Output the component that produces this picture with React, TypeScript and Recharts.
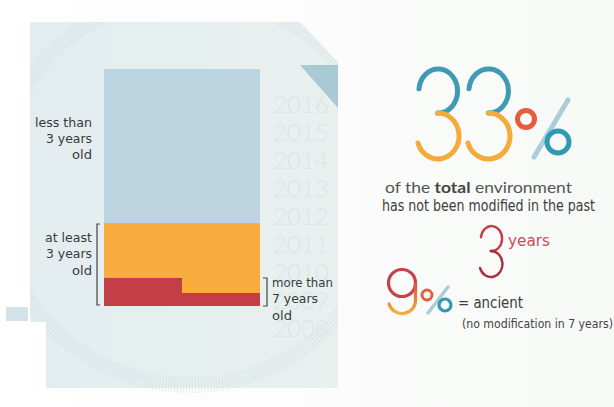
import { BarChart, Bar, XAxis, YAxis } from 'recharts'

// two halves of the single column (left / right step)
const halves = ['a', 'b']
const moreThan7 = [12, 5.5]
const atLeast3 = [23, 29.5]
const lessThan3 = [65, 65]
const years = ['2016', '2015', '2014', '2013', '2012', '2011', '2010', '2009', '2008']

const data = halves.map((h, i) => ({
  name: h,
  red: moreThan7[i],
  orange: atLeast3[i],
  blue: lessThan3[i],
}))

const labelFont = '"DejaVu Sans Condensed", "Liberation Sans Narrow", sans-serif'
const textFont = '"Lato", "Open Sans", sans-serif'

function Background() {
  return (
    <svg width={614} height={407} style={{ position: 'absolute', left: 0, top: 0 }}>
      <defs>
        <linearGradient id="bg" x1="0" y1="0" x2="1" y2="0">
          <stop offset="0%" stopColor="#e3edf0" />
          <stop offset="100%" stopColor="#e9f1ef" />
        </linearGradient>
        <linearGradient id="page" x1="0" y1="0" x2="1" y2="0">
          <stop offset="0%" stopColor="#ffffff" />
          <stop offset="100%" stopColor="#f7f9f7" />
        </linearGradient>
        <clipPath id="panelClip">
          <polygon points="30,22 300,22 338,62 338,395 30,395" />
        </clipPath>
      </defs>
      <rect x={0} y={0} width={614} height={407} fill="url(#page)" />
      <polygon points="30,22 300,22 338,62 338,388 30,388" fill="url(#bg)" />
      <g clipPath="url(#panelClip)">
        <circle cx={190} cy={190} r={195} fill="none" stroke="#c6d6dc" strokeWidth={16} strokeDasharray="1 2" opacity={0.45} />
      </g>
      <polygon points="300,65 338,65 338,108" fill="#a9c9d5" />
      <rect x={6} y={307} width={22} height={14} fill="#d3e1e8" />
      <rect x={0} y={322} width={46} height={70} fill="#ffffff" />
      {years.map((y, i) => (
        <text
          key={y}
          x={273}
          y={113 + i * 28}
          fontSize={24}
          fontFamily={textFont}
          fontWeight={300}
          fill="#dde4e6"
        >
          {y}
        </text>
      ))}
    </svg>
  )
}

// a thin "3" drawn as two bowls, x0 = left edge
function Three({ x0, top, w, h, sw, upper, lower }: { x0: number; top: number; w: number; h: number; sw: number; upper: string; lower: string }) {
  const mid = top + h * 0.49
  const cx = x0 + w * 0.47
  const r1x = w * 0.46
  const r1y = (mid - top) / 2
  const r2x = w * 0.5
  const r2y = (top + h - mid) / 2
  return (
    <g fill="none" strokeWidth={sw} strokeLinecap="round">
      <path d={`M${x0 + 1},${top + r1y * 0.9} A${r1x},${r1y} 0 1 1 ${cx},${mid}`} stroke={upper} />
      <path d={`M${cx},${mid} A${r2x},${r2y} 0 1 1 ${x0},${mid + r2y * 1.3}`} stroke={lower} />
    </g>
  )
}

function Labels() {
  const line = (t: string, x: number, y: number, anchor: 'start' | 'end', len: number) => (
    <text
      x={x}
      y={y}
      textAnchor={anchor}
      fontSize={12.5}
      fontFamily={labelFont}
      fill="#3a3a3a"
      textLength={len}
      lengthAdjust="spacingAndGlyphs"
    >
      {t}
    </text>
  )
  return (
    <svg width={614} height={407} style={{ position: 'absolute', left: 0, top: 0 }}>
      <defs>
        <linearGradient id="nineTail" x1="0" y1="0" x2="0" y2="1">
          <stop offset="0%" stopColor="#d9543f" />
          <stop offset="100%" stopColor="#f3b03c" />
        </linearGradient>
      </defs>
      {line('less than', 92, 127, 'end', 57)}
      {line('3 years', 92, 143, 'end', 46)}
      {line('old', 92, 159, 'end', 20)}
      {line('at least', 92, 242, 'end', 47)}
      {line('3 years', 92, 258, 'end', 46)}
      {line('old', 92, 275, 'end', 20)}
      {line('more than', 272, 287, 'start', 61)}
      {line('7 years', 272, 303, 'start', 46)}
      {line('old', 272, 320, 'start', 20)}
      <path d="M100,224 L97,224 L97,305 L100,305" fill="none" stroke="#444" strokeWidth={1.2} />
      <path d="M263,278 L267,278 L267,306 L263,306" fill="none" stroke="#444" strokeWidth={1.2} />

      <Three x0={418} top={69} w={42} h={90} sw={5} upper="#3f9ab4" lower="#f5ab3a" />
      <Three x0={468} top={69} w={43} h={90} sw={5} upper="#3f9ab4" lower="#f5ab3a" />
      <line x1={534} y1={157} x2={568} y2={100} stroke="#a9ced8" strokeWidth={5} strokeLinecap="round" />
      <circle cx={526} cy={119} r={8.5} fill="none" stroke="#e35e3a" strokeWidth={5} />
      <circle cx={558} cy={142} r={11} fill="none" stroke="#2e9ab4" strokeWidth={5} />

      <text x={385} y={193} fontSize={16} fontFamily={textFont} fill="#555" textLength={187} lengthAdjust="spacingAndGlyphs">
        of the <tspan fontWeight={700} fill="#444">total</tspan> environment
      </text>
      <text x={382} y={211} fontSize={15} fontFamily={labelFont} fill="#3c3c3c" textLength={213} lengthAdjust="spacingAndGlyphs">
        has not been modified in the past
      </text>

      <Three x0={480} top={226} w={23} h={51} sw={2.4} upper="#c23e4a" lower="#a8303c" />
      <text x={508} y={246} fontSize={16} fontFamily={labelFont} fill="#cc4c57" textLength={42} lengthAdjust="spacingAndGlyphs">
        years
      </text>

      <g fill="none" strokeLinecap="round">
        <circle cx={402} cy={283} r={13.5} stroke="#c9404a" strokeWidth={3.2} />
        <path d="M415.5,284 L415.5,300 A13.5,13 0 0 1 389,304" stroke="url(#nineTail)" strokeWidth={3.2} />
      </g>
      <line x1={428} y1={313} x2={448} y2={287} stroke="#a9ced8" strokeWidth={3.5} strokeLinecap="round" />
      <circle cx={427} cy={295} r={5} fill="none" stroke="#e35e3a" strokeWidth={3} />
      <circle cx={445} cy={305} r={6} fill="none" stroke="#2e9ab4" strokeWidth={3.2} />
      <text x={458} y={308} fontSize={16} fontFamily={labelFont} fill="#3c3c3c" textLength={65} lengthAdjust="spacingAndGlyphs">
        = ancient
      </text>
      <text x={462} y={328} fontSize={11.5} fontFamily={labelFont} fill="#444" textLength={151} lengthAdjust="spacingAndGlyphs">
        (no modification in 7 years)
      </text>
    </svg>
  )
}

export default function App() {
  return (
    <div style={{ position: 'absolute', left: 0, top: 0, width: 614, height: 407, overflow: 'hidden' }}>
      <Background />
      <div style={{ position: 'absolute', left: 0, top: 0 }}>
        <BarChart
          width={614}
          height={407}
          data={data}
          margin={{ top: 69, right: 354, bottom: 101, left: 104 }}
          barCategoryGap={0}
          barGap={0}
        >
          <XAxis dataKey="name" hide />
          <YAxis hide domain={[0, 100]} />
          <Bar dataKey="red" stackId="s" fill="#c33e46" isAnimationActive={false} />
          <Bar dataKey="orange" stackId="s" fill="#f9ad3f" isAnimationActive={false} />
          <Bar dataKey="blue" stackId="s" fill="#bcd4e0" isAnimationActive={false} />
        </BarChart>
      </div>
      <Labels />
    </div>
  )
}
